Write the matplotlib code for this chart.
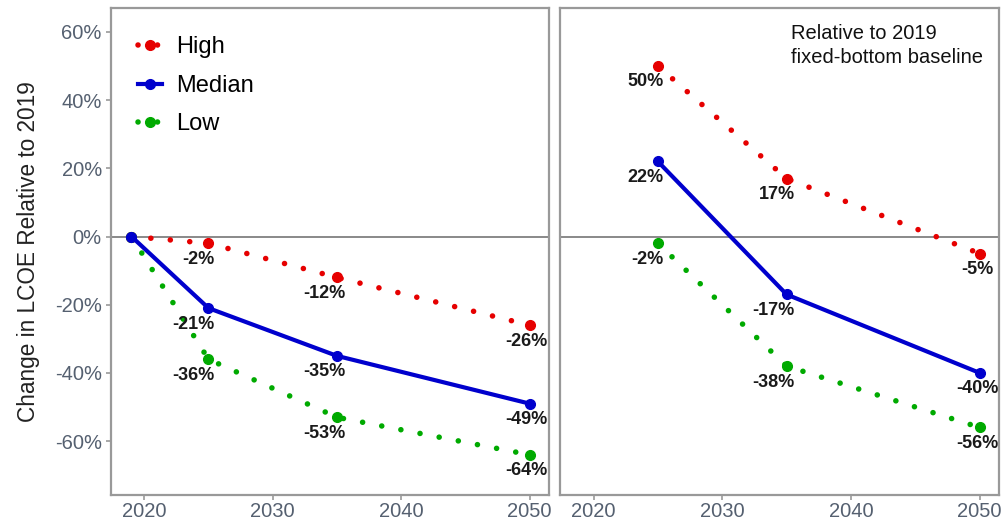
import matplotlib
matplotlib.use("Agg")
import matplotlib.pyplot as plt
from matplotlib.ticker import FuncFormatter

plt.rcParams["font.family"] = ["Liberation Sans", "DejaVu Sans"]

years_left = [2019, 2025, 2035, 2050]
high_left = [0, -2, -12, -26]
median_left = [0, -21, -35, -49]
low_left = [0, -36, -53, -64]

years_right = [2025, 2035, 2050]
high_right = [50, 17, -5]
median_right = [22, -17, -40]
low_right = [-2, -38, -56]

series_names = ["High", "Median", "Low"]
colors = {"High": "#e60000", "Median": "#0000cd", "Low": "#00aa00"}
dotted = (0, (0.01, 3.5))

# horizontal placement of the value labels, per year (offset in points, alignment)
label_place = {2025: (4, "right"), 2035: (6, "right"), 2050: (-2, "center")}

fig = plt.figure(figsize=(10.08, 5.23), dpi=100)
ax1 = fig.add_axes([0.110, 0.0535, 0.4345, 0.9312])
ax2 = fig.add_axes([0.5556, 0.0535, 0.4355, 0.9312])


def draw_panel(ax, years, data):
    ax.axhline(0, color="#808080", lw=1.3, zorder=1)
    for name in series_names:
        vals = data[name]
        if name == "Median":
            ax.plot(years, vals, color=colors[name], lw=3, marker="o", ms=7,
                    label=name, zorder=3)
        else:
            ax.plot(years, vals, color=colors[name], lw=4, ls=dotted,
                    dash_capstyle="round", marker="o", ms=7, label=name, zorder=2)
        for x, v in zip(years, vals):
            if x in label_place:
                dx, ha = label_place[x]
                ax.annotate(f"{v}%", (x, v), xytext=(dx, -11.5), textcoords="offset points",
                            ha=ha, va="center", fontsize=13, fontweight="bold",
                            color="#1a1a1a", zorder=4)
    ax.set_xlim(2017.4, 2051.5)
    ax.set_ylim(-75.8, 67)
    ax.set_xticks([2020, 2030, 2040, 2050])
    ax.set_yticks([-60, -40, -20, 0, 20, 40, 60])
    for side in ax.spines.values():
        side.set_color("#999999")
        side.set_linewidth(1.6)
    ax.tick_params(axis="both", colors="#999999", labelcolor="#556070",
                   labelsize=14.5, length=3.5, width=1.2)
    ax.tick_params(axis="x", pad=1.5)


draw_panel(ax1, years_left, {"High": high_left, "Median": median_left, "Low": low_left})
draw_panel(ax2, years_right, {"High": high_right, "Median": median_right, "Low": low_right})

ax1.yaxis.set_major_formatter(FuncFormatter(lambda v, p: f"{int(v)}%"))
ax1.tick_params(axis="y", pad=3)
ax1.set_ylabel("Change in LCOE Relative to 2019", fontsize=16.3, color="#222222")
ax1.yaxis.set_label_coords(-0.162, 0.5)
ax2.tick_params(axis="y", left=False, labelleft=False)

ax1.legend(loc="upper left", bbox_to_anchor=(0.062, 0.942), frameon=False, fontsize=17,
           handlelength=1.0, labelspacing=0.7, borderaxespad=0, borderpad=0,
           handletextpad=0.6)

ax2.text(0.525, 0.968, "Relative to 2019\nfixed-bottom baseline", transform=ax2.transAxes,
         ha="left", va="top", fontsize=14.5, color="#111111", linespacing=1.35)

fig.savefig("out.png", dpi=100)
